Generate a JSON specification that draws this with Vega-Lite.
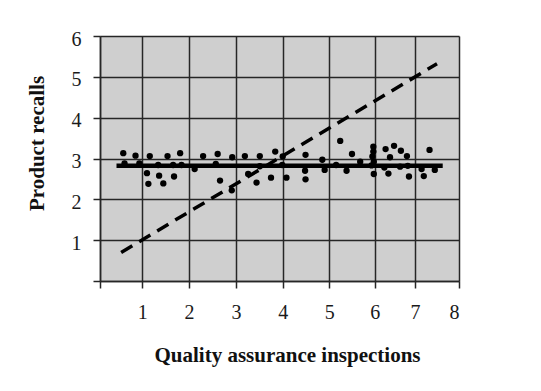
{
  "$schema": "https://vega.github.io/schema/vega-lite/v6.json",
  "width": 359,
  "height": 245,
  "autosize": {"type": "none"},
  "padding": {"left": 100, "top": 36, "right": 82, "bottom": 110},
  "background": "white",
  "config": {
    "view": {"fill": "#cfcfcf", "stroke": null},
    "font": "Liberation Serif",
    "axis": {
      "grid": true,
      "gridColor": "#262626",
      "gridWidth": 1.5,
      "gridOpacity": 1,
      "domainColor": "#262626",
      "domainWidth": 1.5,
      "tickColor": "#262626",
      "tickWidth": 1.5,
      "tickSize": 7,
      "titleFont": "Liberation Serif",
      "titleFontSize": 21,
      "titleFontWeight": "bold",
      "titleColor": "#111111"
    }
  },
  "encoding": {
    "x": {
      "field": "x",
      "type": "quantitative",
      "scale": {"domain": [0, 1, 2, 3, 4, 5, 6, 7, 8], "range": [0, 42.3, 89, 136, 182.7, 229.3, 274.7, 315, 359], "nice": false, "zero": false},
      "axis": {
        "values": [0, 1, 2, 3, 4, 5, 6, 7, 8],
        "labelExpr": "datum.value == 0 ? '' : datum.label",
        "labelFont": "Liberation Serif",
        "labelFontSize": 20,
        "labelColor": "#1a1a1a",
        "labelPadding": 14,
        "title": "Quality assurance inspections",
        "titleBaseline": "middle",
        "titleX": 187,
        "titleY": 74
      }
    },
    "y": {
      "field": "y",
      "type": "quantitative",
      "scale": {"domain": [0, 6], "nice": false, "zero": false},
      "axis": {
        "values": [0, 1, 2, 3, 4, 5, 6],
        "labelExpr": "datum.value == 0 ? '' : datum.label",
        "labelFont": "Liberation Serif",
        "labelFontSize": 20,
        "labelColor": "#1a1a1a",
        "labelPadding": 12,
        "labelOffset": 3,
        "title": "Product recalls",
        "titleBaseline": "middle",
        "titleX": -63,
        "titleY": 107
      }
    }
  },
  "layer": [
    {
      "data": {"values": [
        {"x": 0.55, "y": 3.13}, {"x": 0.58, "y": 2.88}, {"x": 0.84, "y": 3.07}, {"x": 0.93, "y": 2.88},
        {"x": 1.16, "y": 3.06}, {"x": 1.10, "y": 2.64}, {"x": 1.13, "y": 2.38}, {"x": 1.34, "y": 2.84},
        {"x": 1.36, "y": 2.58}, {"x": 1.45, "y": 2.39}, {"x": 1.54, "y": 3.06}, {"x": 1.66, "y": 2.84},
        {"x": 1.68, "y": 2.56}, {"x": 1.81, "y": 3.13}, {"x": 1.84, "y": 2.84}, {"x": 2.12, "y": 2.74},
        {"x": 2.30, "y": 3.06}, {"x": 2.57, "y": 2.87}, {"x": 2.61, "y": 3.11}, {"x": 2.66, "y": 2.46},
        {"x": 2.92, "y": 3.03}, {"x": 2.91, "y": 2.22}, {"x": 3.19, "y": 3.06}, {"x": 3.26, "y": 2.62},
        {"x": 3.44, "y": 2.41}, {"x": 3.51, "y": 3.06}, {"x": 3.51, "y": 2.81}, {"x": 3.75, "y": 2.53},
        {"x": 3.84, "y": 3.17}, {"x": 3.99, "y": 2.84}, {"x": 4.00, "y": 3.05}, {"x": 4.08, "y": 2.53},
        {"x": 4.49, "y": 3.09}, {"x": 4.48, "y": 2.70}, {"x": 4.49, "y": 2.49}, {"x": 4.85, "y": 2.97},
        {"x": 4.90, "y": 2.72}, {"x": 5.24, "y": 3.43}, {"x": 5.15, "y": 2.84}, {"x": 5.38, "y": 2.70},
        {"x": 5.50, "y": 3.11}, {"x": 5.68, "y": 2.92}, {"x": 5.97, "y": 3.29}, {"x": 5.97, "y": 3.17},
        {"x": 5.95, "y": 3.05}, {"x": 5.98, "y": 2.92}, {"x": 5.93, "y": 2.83}, {"x": 5.98, "y": 2.62},
        {"x": 6.27, "y": 3.23}, {"x": 6.48, "y": 3.31}, {"x": 6.38, "y": 3.03}, {"x": 6.65, "y": 3.19},
        {"x": 6.80, "y": 3.06}, {"x": 6.24, "y": 2.78}, {"x": 6.34, "y": 2.63}, {"x": 6.63, "y": 2.80},
        {"x": 6.82, "y": 2.82}, {"x": 6.85, "y": 2.56}, {"x": 7.15, "y": 2.74}, {"x": 7.20, "y": 2.57},
        {"x": 7.33, "y": 3.21}, {"x": 7.45, "y": 2.72}
      ]},
      "mark": {"type": "circle", "size": 40, "color": "#000000", "opacity": 1}
    },
    {
      "data": {"values": [{"x": 0.39, "x2": 7.63, "y": 2.82}]},
      "mark": {"type": "rule", "color": "#000000", "strokeWidth": 4.5},
      "encoding": {"x2": {"field": "x2"}}
    },
    {
      "data": {"values": [{"x": 0.5, "y": 0.7}, {"x": 7.5, "y": 5.32}]},
      "mark": {"type": "line", "color": "#000000", "strokeWidth": 3.5, "strokeDash": [13, 8]}
    }
  ]
}
